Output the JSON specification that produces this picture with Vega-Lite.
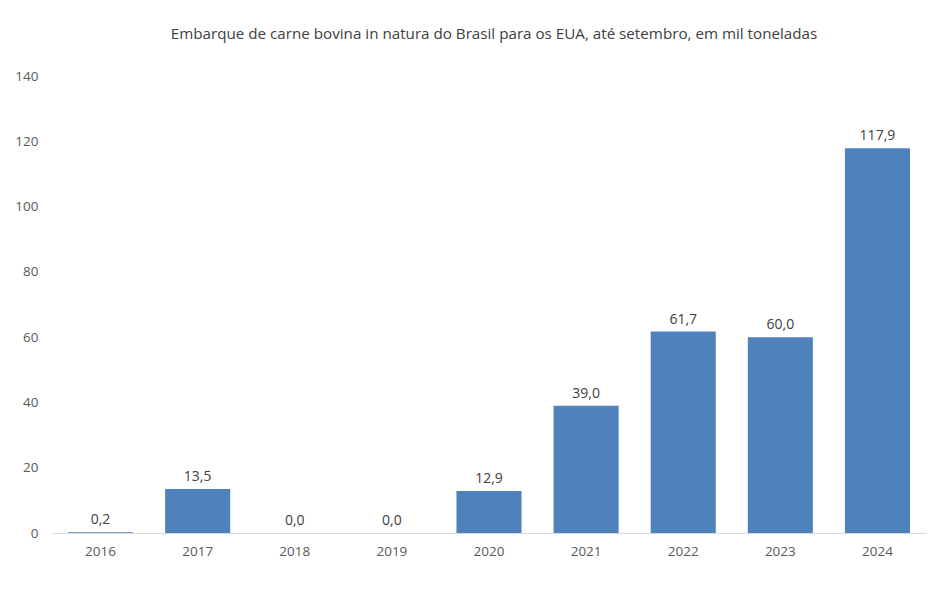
{
  "$schema": "https://vega.github.io/schema/vega-lite/v6.json",
  "autosize": {"type": "none"},
  "width": 874,
  "height": 457,
  "padding": {"left": 52, "top": 76, "right": 22, "bottom": 56},
  "background": "white",
  "title": {
    "text": "Embarque de carne bovina in natura do Brasil para os EUA, até setembro, em mil toneladas",
    "font": "Open Sans",
    "fontSize": 15.2,
    "fontWeight": "normal",
    "color": "#404040",
    "anchor": "middle",
    "offset": 27,
    "dx": 5
  },
  "config": {
    "locale": {"number": {"decimal": ",", "thousands": ".", "grouping": [3], "currency": ["R$", ""]}},
    "view": {"stroke": null},
    "font": "Open Sans"
  },
  "data": {
    "values": [
      {"ano": "2016", "valor": 0.2},
      {"ano": "2017", "valor": 13.5},
      {"ano": "2018", "valor": 0.0},
      {"ano": "2019", "valor": 0.0},
      {"ano": "2020", "valor": 12.9},
      {"ano": "2021", "valor": 39.0},
      {"ano": "2022", "valor": 61.7},
      {"ano": "2023", "valor": 60.0},
      {"ano": "2024", "valor": 117.9}
    ]
  },
  "encoding": {
    "x": {
      "field": "ano",
      "type": "ordinal",
      "scale": {"paddingInner": 0.33, "paddingOuter": 0.165},
      "axis": {
        "title": null,
        "labelAngle": 0,
        "labelFont": "Open Sans",
        "labelFontSize": 13.5,
        "labelColor": "#595959",
        "labelPadding": 11,
        "ticks": false,
        "domainColor": "#d9d9d9",
        "domainWidth": 1
      }
    },
    "y": {
      "field": "valor",
      "type": "quantitative",
      "scale": {"domain": [0, 140]},
      "axis": {
        "title": null,
        "values": [0, 20, 40, 60, 80, 100, 120, 140],
        "grid": false,
        "domain": false,
        "ticks": false,
        "labelFont": "Open Sans",
        "labelFontSize": 13.5,
        "labelColor": "#595959",
        "labelPadding": 14
      }
    }
  },
  "layer": [
    {"mark": {"type": "bar", "color": "#4f81bd"}},
    {
      "mark": {"type": "text", "baseline": "bottom", "dy": -5, "font": "Open Sans", "fontSize": 14, "color": "#404040"},
      "encoding": {"text": {"field": "valor", "type": "quantitative", "format": ".1f"}}
    }
  ]
}
